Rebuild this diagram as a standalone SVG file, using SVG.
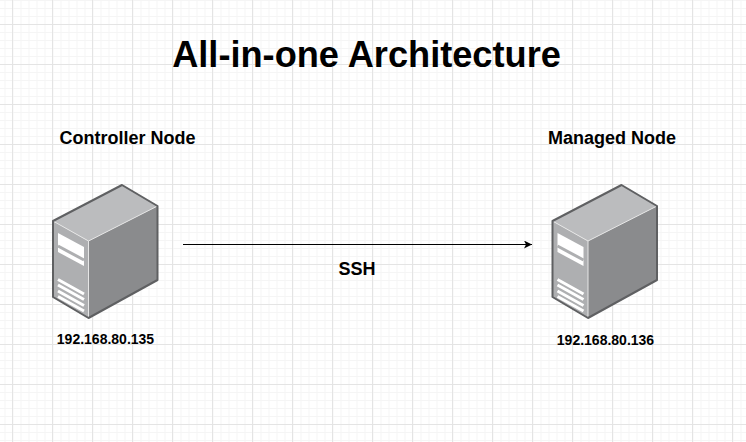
<svg xmlns="http://www.w3.org/2000/svg" width="746" height="442" viewBox="0 0 746 442">
<style>
text{font-family:"Liberation Sans",Arial,sans-serif;font-weight:bold;fill:#000}
.minor{stroke:#f5f5f5;stroke-width:1;fill:none}
.major{stroke:#e4e4e4;stroke-width:1;fill:none}
.title{font-size:36.2px}
.head{font-size:18px}
.ip{font-size:14px}
.hi{stroke:#e6e6e6;stroke-width:1;fill:none}
</style>
<defs>
<pattern id="gm" width="8" height="8" patternUnits="userSpaceOnUse" x="4.5" y="0">
<path d="M0.5 0V8M0 0.5H8" class="minor"/>
</pattern>
<pattern id="gM" width="40" height="40" patternUnits="userSpaceOnUse" x="12" y="24">
<path d="M0.5 0V40M0 0.5H40" class="major"/>
</pattern>
<marker id="arr" markerWidth="10" markerHeight="10" refX="8" refY="4" orient="auto" markerUnits="userSpaceOnUse">
<path d="M0 0L8 4L0 8L2 4Z" fill="#000"/>
</marker>
<g id="server">
<path d="M53 221L122 185L157.500 206L88.500 241Z" fill="#bbbcbe"/>
<path d="M88.500 241L157.500 206V280L88.500 318Z" fill="#8a8b8d"/>
<path d="M53 221L88.500 241V318L53 297Z" fill="#aeafb1"/>
<path d="M58 233L84 247V266L58 252Z" fill="#fff"/>
<path d="M58 246L84 260" stroke="#aeafb1" stroke-width="3" fill="none"/>
<path d="M58 279.500L84 294M58 285L84 299.500M58 291L84 305.500M58 296.500L84 311" stroke="#fff" stroke-width="3" fill="none"/>
<path d="M53 221L88.500 241M88.500 241V318M88.500 241L157.500 206" class="hi"/>
<path d="M53 221L122 185L157.500 206V280L88.500 318L53 297Z" fill="none" stroke="#5f6062" stroke-width="2" stroke-linejoin="round"/>
</g>
</defs>
<rect width="746" height="442" fill="#fff"/>
<rect width="746" height="442" fill="url(#gm)"/>
<rect width="746" height="442" fill="url(#gM)"/>
<text id="title" class="title" x="366.500" y="67" text-anchor="middle">All-in-one Architecture</text>
<g id="connectors">
<path d="M183 244.500H532" stroke="#000" stroke-width="1" fill="none" marker-end="url(#arr)"/>
<text class="head" x="357" y="275" text-anchor="middle">SSH</text>
</g>
<g id="controller">
<text class="head" x="127.500" y="144" text-anchor="middle">Controller Node</text>
<use href="#server"/>
<text class="ip" x="105.500" y="344" text-anchor="middle">192.168.80.135</text>
</g>
<g id="managed">
<text class="head" x="612" y="144" text-anchor="middle">Managed Node</text>
<use href="#server" x="499.500"/>
<text class="ip" x="605.500" y="345" text-anchor="middle">192.168.80.136</text>
</g>
</svg>
